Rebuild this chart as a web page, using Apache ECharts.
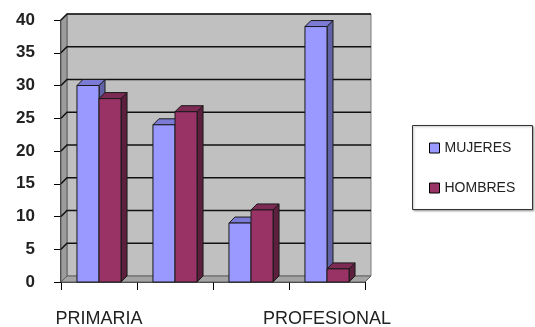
<!DOCTYPE html>
<html><head><meta charset="utf-8">
<script src="https://cdn.jsdelivr.net/npm/echarts@6/dist/echarts.min.js"></script>
<style>html,body{margin:0;padding:0;background:#fff}#c{width:535px;height:327px}</style>
</head><body><div id="c"></div>
<script>
const categories = ['PRIMARIA', '', '', 'PROFESIONAL'];
const mujeres = [30, 24, 9, 39];
const hombres = [28, 26, 11, 2];
const yTicks = [0, 5, 10, 15, 20, 25, 30, 35, 40];
const seriesNames = ['MUJERES', 'HOMBRES'];

const D = 6;
const chart = echarts.init(document.getElementById('c'), null, {renderer: 'canvas'});

function wallRender(params, api) {
  const cs = params.coordSys;
  const x0 = cs.x, x1 = cs.x + cs.width, yT = cs.y, yB = cs.y + cs.height;
  const children = [];
  children.push({type: 'rect', shape: {x: x0 + D, y: yT - D, width: cs.width, height: cs.height},
    style: {fill: '#c0c0c0', stroke: '#7a7a7a', lineWidth: 1}});
  children.push({type: 'polygon', shape: {points: [[x0, yB], [x0, yT], [x0 + D, yT - D], [x0 + D, yB - D]]},
    style: {fill: '#9c9c9c', stroke: '#606060', lineWidth: 1}});
  children.push({type: 'polygon', shape: {points: [[x0, yB], [x1, yB], [x1 + D, yB - D], [x0 + D, yB - D]]},
    style: {fill: '#a4a4a4', stroke: '#606060', lineWidth: 1}});
  yTicks.forEach(t => {
    if (t === 0) return;
    const y = api.coord([0, t])[1];
    children.push({type: 'polyline', shape: {points: [[x0, y], [x0 + D, y - D], [x1 + D, y - D]]},
      style: {stroke: '#111', lineWidth: 1.5, fill: null}});
  });
  return {type: 'group', children};
}

function barRender(offsetIdx, front, top, side) {
  return function (params, api) {
    const cat = api.value(0), val = api.value(1);
    const p = api.coord([cat, val]);
    const b = api.coord([cat, 0]);
    const bw = api.size([1, 0])[0];
    const w = bw * 0.29;
    const x = p[0] + (offsetIdx === 0 ? -w : 0);
    const yt = p[1], yb = b[1];
    const st = {stroke: '#1a1a1a', lineWidth: 1};
    return {type: 'group', children: [
      {type: 'polygon', shape: {points: [[x + w, yt], [x + w + D, yt - D], [x + w + D, yb - D], [x + w, yb]]}, style: Object.assign({fill: side}, st)},
      {type: 'polygon', shape: {points: [[x, yt], [x + w, yt], [x + w + D, yt - D], [x + D, yt - D]]}, style: Object.assign({fill: top}, st)},
      {type: 'rect', shape: {x: x, y: yt, width: w, height: yb - yt}, style: Object.assign({fill: front}, st)}
    ]};
  };
}

const option = {
  animation: false,
  backgroundColor: '#fff',
  grid: {left: 61, right: 170, top: 20, bottom: 45, containLabel: false, outerBoundsMode: 'none'},
  xAxis: {
    type: 'category', data: categories, boundaryGap: true,
    axisLine: {show: true, lineStyle: {color: '#000', width: 1.5}},
    axisTick: {show: true, interval: 0, length: 8, lineStyle: {color: '#000'}},
    axisLabel: {interval: 0, margin: 28, fontSize: 18, color: '#222', fontFamily: 'Liberation Sans'},
    splitLine: {show: false}
  },
  yAxis: {
    type: 'value', min: 0, max: 40, interval: 5,
    axisLine: {show: true, lineStyle: {color: '#000', width: 1.5}},
    axisTick: {show: true, length: 7, lineStyle: {color: '#000'}},
    axisLabel: {margin: 26, fontSize: 17, fontWeight: 'bold', color: '#222', fontFamily: 'Liberation Sans'},
    splitLine: {show: false}
  },
  legend: {
    orient: 'vertical', left: 429, top: 140, padding: 0,
    itemWidth: 10, itemHeight: 10, itemGap: 24,
    icon: 'rect',
    data: seriesNames,
    textStyle: {fontSize: 14, lineHeight: 16, color: '#222', fontFamily: 'Liberation Sans'},
    itemStyle: {borderColor: '#000', borderWidth: 1}
  },
  graphic: [{
    type: 'rect', left: 412, top: 125, z: -1,
    shape: {width: 120, height: 84},
    style: {fill: '#fff', stroke: '#333', lineWidth: 1, shadowColor: 'rgba(0,0,0,0.3)', shadowOffsetX: 1, shadowOffsetY: 1, shadowBlur: 2}
  }],
  series: [
    {type: 'custom', name: 'wall', silent: true, z: 1, renderItem: wallRender, data: [[0, 0]], encode: {x: 0, y: 1}},
    {type: 'custom', name: seriesNames[0], z: 3, itemStyle: {color: '#9999ff'},
      renderItem: barRender(0, '#9999ff', '#7b7bd6', '#6262a8'),
      data: mujeres.map((v, i) => [i, v]), encode: {x: 0, y: 1}},
    {type: 'custom', name: seriesNames[1], z: 3, itemStyle: {color: '#993366'},
      renderItem: barRender(1, '#993366', '#7d2a54', '#5c1f3d'),
      data: hombres.map((v, i) => [i, v]), encode: {x: 0, y: 1}}
  ]
};
chart.setOption(option);
</script>
</body></html>
